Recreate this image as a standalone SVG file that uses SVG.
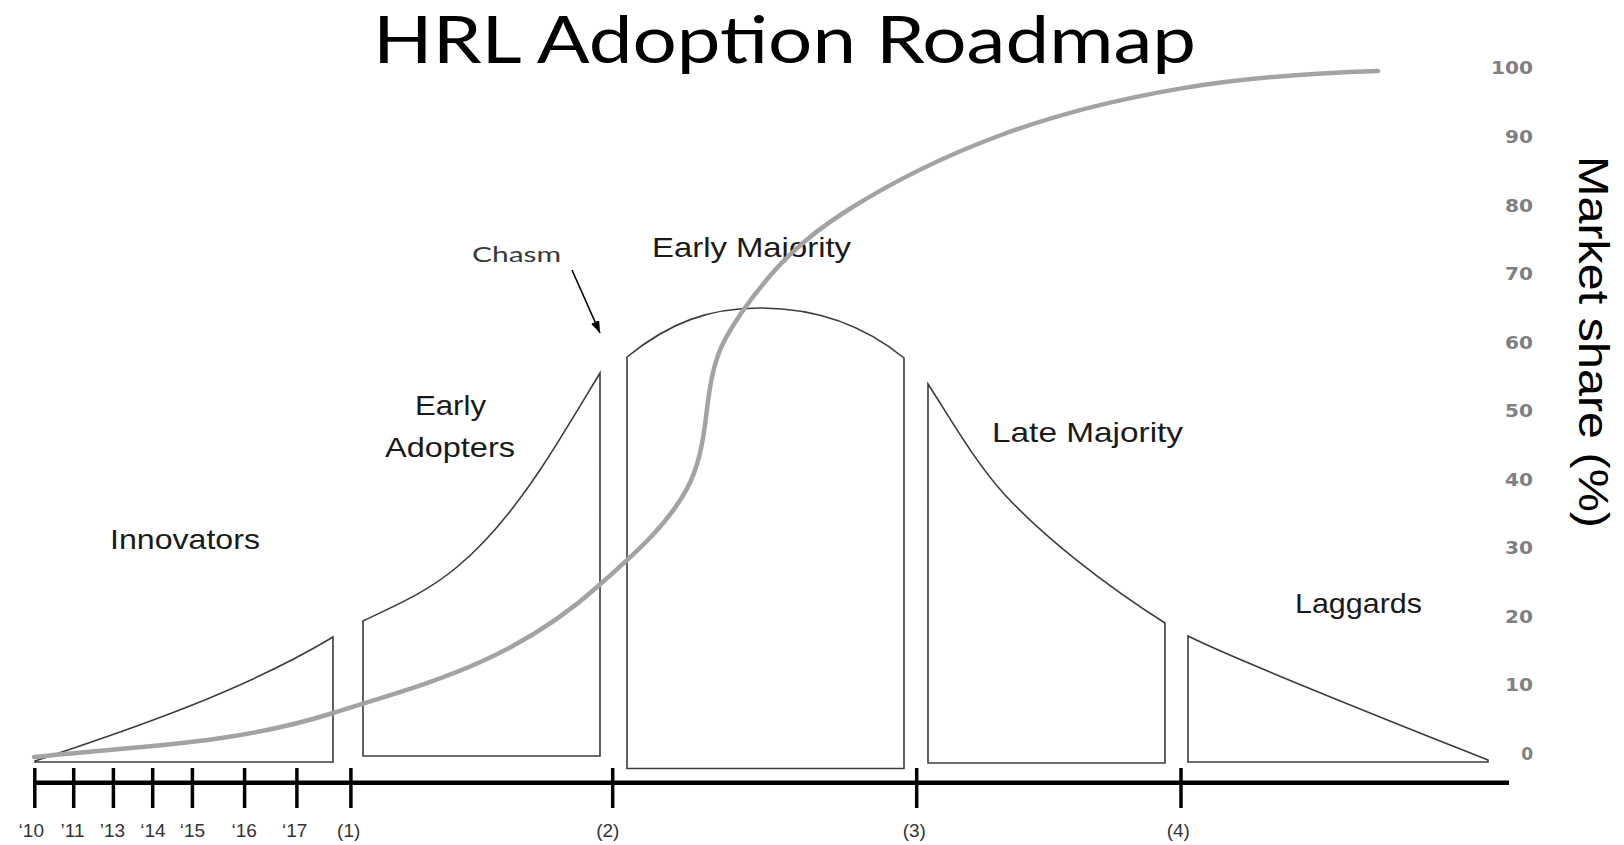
<svg xmlns="http://www.w3.org/2000/svg" width="1624" height="845" viewBox="0 0 1624 845">
<defs>
<style>
.seg{fill:#fff;stroke:#3c3c3c;stroke-width:1.6;stroke-linejoin:miter}
.lbl{font-family:"Liberation Sans",Arial,sans-serif;font-size:28px;fill:#1a1a1a}
.yr{font-family:"Liberation Sans",Arial,sans-serif;font-size:19px;fill:#333;text-anchor:middle}
.pct{font-family:"DejaVu Sans",sans-serif;font-weight:bold;font-size:17px;fill:#808080;text-anchor:end}
.tick{stroke:#000;stroke-width:3.5}
.curve{fill:none;stroke:#a3a3a3;stroke-width:4.5;stroke-linecap:round}
</style>
<marker id="ah" viewBox="0 0 12 9" markerWidth="12" markerHeight="9" refX="12" refY="4.5" orient="auto" markerUnits="userSpaceOnUse">
<path d="M0,0 L12,4.5 L0,9 z" fill="#000"/>
</marker>
</defs>
<rect width="1624" height="845" fill="#fff"/>

<g id="title">
<text x="373" y="63" textLength="823" lengthAdjust="spacingAndGlyphs" font-family="Lato, 'Liberation Sans', sans-serif" font-size="66" fill="#000">HRL Adoption Roadmap</text>
</g>

<g id="innovators">
<path class="seg" d="M35,761 C135,728 245,690 333,637 L333,762 L35,762 Z"/>
<text class="lbl" x="110" y="549" textLength="150" lengthAdjust="spacingAndGlyphs">Innovators</text>
</g>

<g id="early-adopters">
<path class="seg" d="M363,621 C394,606 426,593 457,567 C485,544 512,512 540,470 C560,440 580,406 600,373 L600,756 L363,756 Z"/>
<text class="lbl" x="415" y="415" textLength="71" lengthAdjust="spacingAndGlyphs">Early</text>
<text class="lbl" x="385" y="457" textLength="130" lengthAdjust="spacingAndGlyphs">Adopters</text>
</g>

<g id="early-majority">
<path class="seg" d="M627,357 C670,322 710,308 760,308 C810,308 860,322 904,358 L904,768.5 L627,768.5 Z"/>
<text class="lbl" x="652" y="257" textLength="199" lengthAdjust="spacingAndGlyphs">Early Majority</text>
</g>

<g id="late-majority">
<path class="seg" d="M928,384 C950,418 975,462 1005,495 C1045,538 1105,585 1165,623 L1165,763 L928,763 Z"/>
<text class="lbl" x="992" y="442" textLength="191" lengthAdjust="spacingAndGlyphs">Late Majority</text>
</g>

<g id="laggards">
<path class="seg" d="M1188,636 C1240,662 1400,725 1488,760 L1488,762 L1188,762 Z"/>
<text class="lbl" x="1295" y="613" textLength="127" lengthAdjust="spacingAndGlyphs">Laggards</text>
</g>

<g id="adoption-curve">
<path class="curve" d="M34,757 C134,746 233,745 333,713 C422,684.5 511,664.6 600,584.5 C632,555.7 666.7,526.5 687,488.6 C698.8,466.6 703,441.8 706,417 C709.2,390.2 712.5,362.3 725.4,338.6 C737.9,315.8 754.4,294.1 771.3,274.3 C792.8,249.2 820,227.6 847.9,210 C896.1,179.6 947.5,154.8 1001,135 C1059.2,113.5 1118.9,99 1180,88.6 C1245,77.5 1312,73 1378,71"/>
</g>

<g id="connectors">
<line x1="572" y1="270" x2="600" y2="333" stroke="#000" stroke-width="1.6" marker-end="url(#ah)"/>
</g>

<g id="chasm-label">
<text x="472" y="261.5" textLength="89" lengthAdjust="spacingAndGlyphs" font-family="Lato, 'Liberation Sans', sans-serif" font-size="22" fill="#3a3a3a">Chasm</text>
</g>

<g id="time-axis">
<line x1="33" y1="782.7" x2="1509" y2="782.7" stroke="#000" stroke-width="4.5"/>
<line class="tick" x1="34.8" y1="768" x2="34.8" y2="808"/>
<line class="tick" x1="73.7" y1="768" x2="73.7" y2="808"/>
<line class="tick" x1="113.4" y1="768" x2="113.4" y2="808"/>
<line class="tick" x1="152.7" y1="768" x2="152.7" y2="808"/>
<line class="tick" x1="192.4" y1="768" x2="192.4" y2="808"/>
<line class="tick" x1="244.6" y1="768" x2="244.6" y2="808"/>
<line class="tick" x1="296.9" y1="768" x2="296.9" y2="808"/>
<line class="tick" x1="350.9" y1="768" x2="350.9" y2="808"/>
<line class="tick" x1="612.7" y1="768" x2="612.7" y2="808"/>
<line class="tick" x1="916.7" y1="768" x2="916.7" y2="808"/>
<line class="tick" x1="1181" y1="768" x2="1181" y2="808"/>
<text class="yr" x="31.3" y="837">‘10</text>
<text class="yr" x="72.5" y="837">’11</text>
<text class="yr" x="112.5" y="837">’13</text>
<text class="yr" x="152.9" y="837">‘14</text>
<text class="yr" x="192.4" y="837">‘15</text>
<text class="yr" x="244.2" y="837">‘16</text>
<text class="yr" x="294.6" y="837">‘17</text>
<text class="yr" x="348.7" y="837">(1)</text>
<text class="yr" x="607.8" y="837">(2)</text>
<text class="yr" x="914.3" y="837">(3)</text>
<text class="yr" x="1178.3" y="837">(4)</text>
</g>

<g id="share-axis">
<text class="pct" x="1533" y="74.4" textLength="42" lengthAdjust="spacingAndGlyphs">100</text>
<text class="pct" x="1533" y="143" textLength="28" lengthAdjust="spacingAndGlyphs">90</text>
<text class="pct" x="1533" y="211.5" textLength="28" lengthAdjust="spacingAndGlyphs">80</text>
<text class="pct" x="1533" y="280.1" textLength="28" lengthAdjust="spacingAndGlyphs">70</text>
<text class="pct" x="1533" y="348.6" textLength="28" lengthAdjust="spacingAndGlyphs">60</text>
<text class="pct" x="1533" y="417.2" textLength="28" lengthAdjust="spacingAndGlyphs">50</text>
<text class="pct" x="1533" y="485.8" textLength="28" lengthAdjust="spacingAndGlyphs">40</text>
<text class="pct" x="1533" y="554.3" textLength="28" lengthAdjust="spacingAndGlyphs">30</text>
<text class="pct" x="1533" y="622.9" textLength="28" lengthAdjust="spacingAndGlyphs">20</text>
<text class="pct" x="1533" y="691.4" textLength="28" lengthAdjust="spacingAndGlyphs">10</text>
<text class="pct" x="1533" y="760">0</text>
<text transform="translate(1579,156) rotate(90)" font-family="'Liberation Sans', Arial, sans-serif" font-size="43" fill="#000" textLength="372" lengthAdjust="spacingAndGlyphs">Market share (%)</text>
</g>
</svg>
